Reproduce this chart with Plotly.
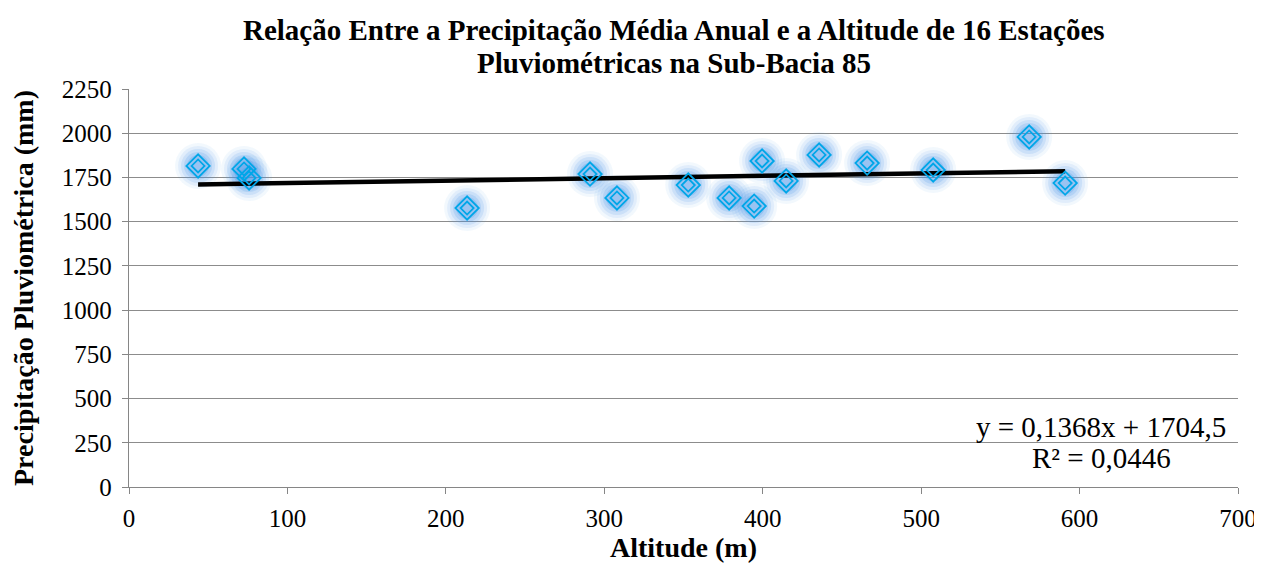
import plotly.graph_objects as go

altitude = [43.6, 72.6, 75.8, 213.4, 291.0, 308.0, 353.0, 378.8, 394.6, 399.6, 414.8, 435.6, 465.9, 507.6, 568.2, 590.9]
precip = [1815, 1798, 1747, 1577, 1769, 1634, 1707, 1634, 1588, 1843, 1730, 1877, 1831, 1792, 1979, 1718]
slope = 0.1368
intercept = 1704.5
x_ticks = [0, 100, 200, 300, 400, 500, 600, 700]
y_ticks = [0, 250, 500, 750, 1000, 1250, 1500, 1750, 2000, 2250]

FONT = "Liberation Serif"
fig = go.Figure()

# glow layers
for size, op in [(46, 0.07), (40, 0.10), (34, 0.14), (28, 0.18), (22, 0.24)]:
    fig.add_trace(go.Scatter(x=altitude, y=precip, mode="markers",
                             marker=dict(symbol="circle", size=size, color="#4a96e8", opacity=op, line=dict(width=0)),
                             hoverinfo="skip", showlegend=False))

# trendline
tx = [min(altitude), max(altitude)]
ty = [slope * v + intercept for v in tx]
fig.add_trace(go.Scatter(x=tx, y=ty, mode="lines", line=dict(color="black", width=4.5), showlegend=False))

# markers (double outlined diamonds)
fig.add_trace(go.Scatter(x=altitude, y=precip, mode="markers",
                         marker=dict(symbol="diamond-open", size=18, color="#00a6e8", line=dict(color="#00a6e8", width=1.8)),
                         showlegend=False))
fig.add_trace(go.Scatter(x=altitude, y=precip, mode="markers",
                         marker=dict(symbol="diamond-open", size=10, color="#00a6e8", line=dict(color="#00a6e8", width=1.8)),
                         showlegend=False))

fig.update_layout(
    width=1254, height=556,
    margin=dict(l=121, r=24, t=81, b=77),
    paper_bgcolor="white", plot_bgcolor="white",
    font=dict(family=FONT, color="black", size=22),
    xaxis=dict(range=[0, 700], tickvals=x_ticks, showgrid=False, zeroline=False,
               showline=True, linecolor="#868686", linewidth=1.3,
               ticks="outside", ticklen=6, tickcolor="#868686",
               ticklabelstandoff=3, automargin=False,
               tickfont=dict(size=25, family=FONT, color="black"),
               title=dict(text="<b>Altitude (m)</b>", font=dict(size=28, family=FONT, color="black"), standoff=0)),
    yaxis=dict(range=[0, 2250], tickvals=y_ticks, showgrid=True, gridcolor="#8c8c8c", gridwidth=1.3,
               zeroline=False, showline=True, linecolor="#868686", linewidth=1.3,
               ticks="outside", ticklen=6, tickcolor="#868686",
               ticklabelstandoff=5, automargin=False,
               tickfont=dict(size=25, family=FONT, color="black"),
               title=dict(text="<b>Precipitação Pluviométrica (mm)</b>", font=dict(size=28, family=FONT, color="black"), standoff=21)),
    annotations=[
        dict(text="<b>Relação Entre a Precipitação Média Anual e a Altitude de 16 Estações</b>",
             xref="paper", yref="paper", x=0.4914, y=1.148, xanchor="center", yanchor="middle",
             showarrow=False, font=dict(size=29, family=FONT, color="black")),
        dict(text="<b>Pluviométricas na Sub-Bacia 85</b>",
             xref="paper", yref="paper", x=0.4914, y=1.065, xanchor="center", yanchor="middle",
             showarrow=False, font=dict(size=29, family=FONT, color="black")),
        dict(text="y = 0,1368x + 1704,5", xref="paper", yref="paper",
             x=0.8765, y=0.151, xanchor="center", yanchor="middle",
             showarrow=False, font=dict(size=29, family=FONT, color="black")),
        dict(text="R² = 0,0446", xref="paper", yref="paper",
             x=0.8765, y=0.073, xanchor="center", yanchor="middle",
             showarrow=False, font=dict(size=29, family=FONT, color="black")),
    ],
)

fig.write_html("out.html")
